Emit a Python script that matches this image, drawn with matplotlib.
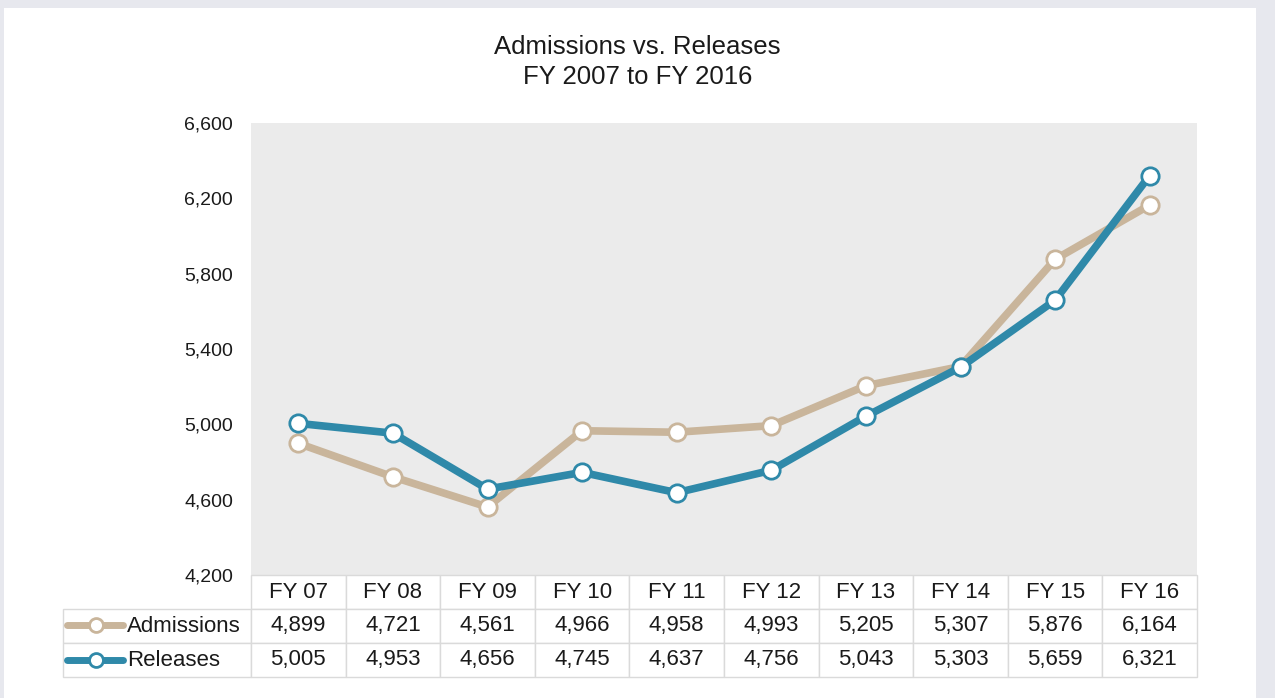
import matplotlib
matplotlib.use("Agg")
import matplotlib.pyplot as plt
from matplotlib.lines import Line2D
from matplotlib.patches import Rectangle

plt.rcParams["font.family"] = ["Liberation Sans", "DejaVu Sans"]

years = ["FY 07", "FY 08", "FY 09", "FY 10", "FY 11",
         "FY 12", "FY 13", "FY 14", "FY 15", "FY 16"]
admissions = [4899, 4721, 4561, 4966, 4958, 4993, 5205, 5307, 5876, 6164]
releases = [5005, 4953, 4656, 4745, 4637, 4756, 5043, 5303, 5659, 6321]

ADM_COLOR = "#c9b59b"
REL_COLOR = "#2f89a9"
EDGE = "#dadada"

W, H = 1275, 698
fig = plt.figure(figsize=(W / 100, H / 100), dpi=100, facecolor="#e7e8ee")

# white card
fig.patches.append(Rectangle((4 / W, 0), (1256 - 4) / W, (H - 8) / H,
                             transform=fig.transFigure, facecolor="white",
                             edgecolor="none", zorder=-5))

left, right, top, bottom = 251, 1197, 123, 575
ax = fig.add_axes([left / W, (H - bottom) / H, (right - left) / W,
                   (bottom - top) / H])
ax.set_facecolor("#ebebeb")
for s in ax.spines.values():
    s.set_visible(False)

x = list(range(len(years)))
ax.plot(x, admissions, color=ADM_COLOR, lw=5.5, marker="o", ms=12.5,
        mfc="white", mec=ADM_COLOR, mew=2, zorder=3, solid_capstyle="round")
ax.plot(x, releases, color=REL_COLOR, lw=5.5, marker="o", ms=12.5,
        mfc="white", mec=REL_COLOR, mew=2, zorder=4, solid_capstyle="round")

ax.set_xlim(-0.5, len(years) - 0.5)
ax.set_ylim(4200, 6600)
ax.set_yticks(range(4200, 6601, 400))
ax.set_yticklabels([f"{v:,}" for v in range(4200, 6601, 400)])
ax.set_xticks([])
ax.tick_params(axis="y", length=0, pad=13, labelsize=14, colors="#1a1a1a")

fig.text(0.5, (H - 62) / H, "Admissions vs. Releases\nFY 2007 to FY 2016",
         ha="center", va="center", fontsize=18.5, linespacing=1.3,
         color="#1a1a1a")

# data table under the chart
label_w = (left - 63) / (right - left)
col_w = 1.0 / len(years)
rows = [[""] + years,
        ["Admissions"] + [f"{v:,}" for v in admissions],
        ["Releases"] + [f"{v:,}" for v in releases]]
tbl_h = (677 - bottom) / (bottom - top)
tbl = ax.table(cellText=rows, colWidths=[label_w] + [col_w] * len(years),
               cellLoc="center", bbox=[-label_w, -tbl_h, 1 + label_w, tbl_h])
tbl.auto_set_font_size(False)
for (r, c), cell in tbl.get_celld().items():
    cell.set_edgecolor(EDGE)
    cell.set_linewidth(1)
    cell.set_facecolor("white")
    cell.get_text().set_fontsize(16)
    cell.get_text().set_color("#1a1a1a")
    if r == 0 and c == 0:
        cell.visible_edges = ""
    if c == 0 and r > 0:
        cell.get_text().set_ha("left")
        cell._loc = "left"
        cell.PAD = (127 - 63) / (left - 63)

# legend keys in the label column
for row, color in [(1, ADM_COLOR), (2, REL_COLOR)]:
    yc = 1 - (608 + 35 * (row - 1) + 17) / H
    fig.add_artist(Line2D([67 / W, 123 / W], [yc, yc], transform=fig.transFigure,
                          color=color, lw=5, solid_capstyle="round", zorder=5))
    fig.add_artist(Line2D([96 / W], [yc], transform=fig.transFigure,
                          marker="o", ms=10, mfc="white", mec=color, mew=2,
                          zorder=6))

fig.savefig("out.png", dpi=100, facecolor=fig.get_facecolor())
